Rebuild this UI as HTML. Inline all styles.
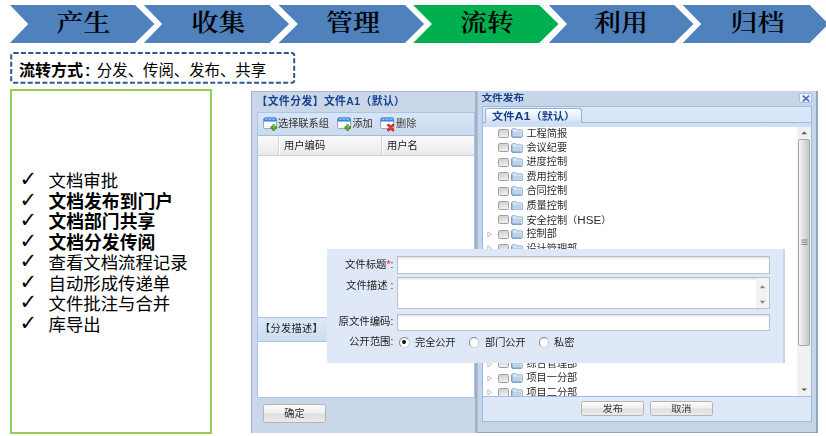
<!DOCTYPE html>
<html lang="zh-CN">
<head>
<meta charset="utf-8">
<title>流转</title>
<style>
html,body{margin:0;padding:0;background:#fff;overflow:hidden;}
body{width:826px;height:436px;position:relative;overflow:hidden;font-family:"Liberation Sans","Noto Sans CJK SC",sans-serif;}
.abs{position:absolute;}
#chev{position:absolute;left:0;top:0;width:826px;height:50px;}
#chev text{font-family:"Liberation Serif","Noto Serif CJK SC",serif;font-weight:600;font-size:27px;fill:#000;text-anchor:middle;}
#mode{position:absolute;left:0;top:44px;width:310px;height:44px;}
#mode svg{position:absolute;left:0;top:0;}
#mode span{position:absolute;left:19px;top:16px;font-size:16px;line-height:22px;white-space:nowrap;color:#000;}
#mode b{font-weight:700;}
#mode em{font-style:normal;font-size:15.4px;margin-left:6.5px;}
#mode u{text-decoration:none;margin-left:2px;}
#gbox{position:absolute;left:10px;top:89px;width:198px;height:340.6px;border:2px solid #92d050;}
#list{position:absolute;left:20.5px;top:171.4px;margin:0;padding:0;list-style:none;font-size:17.4px;line-height:20.5px;color:#000;white-space:nowrap;}
#list li{position:relative;padding-left:28px;height:20.5px;}
#list li i{position:absolute;left:-1px;top:-2px;font-style:normal;font-weight:700;font-size:21px;font-family:"DejaVu Sans",sans-serif;}
#list li.b{font-weight:700;font-size:17.8px;}
.ui{font-size:11px;color:#333;}

/* ---------- screenshot UI ---------- */
#ui{position:absolute;left:0;top:0;width:826px;height:436px;filter:blur(0.35px);font-size:10.4px;color:#222;font-family:"Liberation Sans","Noto Sans CJK SC",sans-serif;}
#ui div,#ui span,#ui i,#ui b{position:absolute;box-sizing:border-box;white-space:nowrap;}
#ui .t{line-height:12px;height:12px;}
/* left panel */
#lp{left:251.1px;top:91px;width:225.9px;height:341.5px;background:#c9d7e9;border-left:1.6px solid #9db0c9;box-shadow:inset 0 1px 0 #a9bad1;}
#lp .ttl{left:5.2px;top:4.4px;font-weight:700;color:#15428b;font-size:10.8px;line-height:13px;letter-spacing:0.42px;}
#lp .tb{left:6px;top:20.5px;width:217.8px;height:24.2px;background:linear-gradient(#d8e5f5,#cbdbef);border:1px solid #a9c4e8;border-bottom-color:#9fbce3;}
#lp .gh{left:6px;top:44.7px;width:217.8px;height:20.7px;background:linear-gradient(#fafafa,#e9eaec);border-left:1.4px solid #a9c4e8;border-right:1px solid #a9c4e8;border-bottom:1px solid #d0d0d0;}
#lp .gb{left:6px;top:65.2px;width:217.8px;height:161.2px;background:#fff;border-left:1.4px solid #a9c4e8;border-right:1px solid #a9c4e8;}
#lp .sep{top:0;width:2px;height:19.8px;border-left:1px solid #d4d4d6;border-right:1px solid #fff;}
#lp .sh{left:6px;top:226.1px;width:217.8px;height:24.8px;background:linear-gradient(#dce8f6,#cddcf0);border:1px solid #a9c4e8;}
#lp .ta{left:6px;top:250.7px;width:217.8px;height:56px;background:#fff;border:1.2px solid #a9c4e8;border-top:none;}
.btn{background:linear-gradient(#fbfbfb 0%,#efefef 48%,#dedede 52%,#eaeaea 100%);border:1px solid #b4b4b4;border-radius:2.5px;text-align:center;color:#333;}
/* right window */
#rw{left:477px;top:91px;width:341.4px;height:342px;background:#c6d5e8;border-left:0.4px solid #b0c0d8;border-right:2px solid #8ea6c8;border-bottom:1.4px solid #93a6c0;}
#rw .ttl{left:3.4px;top:0.4px;font-weight:700;color:#15428b;font-size:10.7px;line-height:12px;transform:scaleY(0.88);}
#rw .cls{left:321.2px;top:2.2px;width:12.4px;height:10px;background:#eef3fa;border:1px solid #a9bfe0;border-radius:2px;}
#rw .ts{left:4.2px;top:15.4px;width:329.8px;height:20.2px;background:linear-gradient(#dde8f6,#d6e3f4);border:1px solid #99bbe8;border-bottom:none;}
#rw .tsb{left:4.2px;top:31.3px;width:329.8px;height:4.8px;background:#cfdef2;border:1px solid #99bbe8;border-bottom:none;border-top-color:#99bbe8;}
#rw .tab{left:7.2px;top:17.2px;width:96.9px;height:15px;background:linear-gradient(#ffffff,#e4edf9 60%,#cfdef2);border:1px solid #8db2e3;border-bottom:none;border-radius:3px 3px 0 0;}
#rw .tab span{left:0;width:100%;text-align:center;top:0.6px;font-weight:700;color:#15428b;font-size:11.2px;line-height:12px;transform:scaleY(0.88);}
#rw .tree{left:4.2px;top:35.9px;width:329.8px;height:270.2px;background:#fff;border:1.4px solid #99bbe8;border-top:none;overflow:hidden;}
#rw .ft{left:4.2px;top:306.1px;width:329.8px;height:24.6px;background:#dfe8f6;border:1.2px solid #99bbe8;border-top:none;}
.row{left:0;width:320px;height:14.4px;}
.row .ar{left:6.6px;top:3.4px;width:0;height:0;}
.row .cb{left:14.4px;top:2.7px;width:11.6px;height:9px;background:linear-gradient(170deg,#cdcdcd,#ededed 85%);border:1px solid #a0a0a0;border-radius:1.5px;}
.row .fd{left:27.8px;top:2.2px;width:12.4px;height:9.8px;}
.row .tx{left:43.2px;top:0.3px;font-size:10.2px;line-height:14.4px;color:#2a2a2a;transform:scaleY(0.95);}
.sb{left:314.2px;top:0;width:13.4px;height:270.2px;background:#f1f1f1;}
.sb .th{left:0.4px;top:11.9px;width:12.6px;height:207px;background:linear-gradient(90deg,#f4f4f4,#dcdcdc 55%,#c4c4c4);border:1px solid #a8a8a8;border-radius:2px;}
#rw .btn u{display:inline-block;text-decoration:none;transform:scaleY(0.88);}
#ui u{text-decoration:none;}
/* overlay */
#ov{left:327px;top:249px;width:457.6px;height:114px;background:#dfe8f6;border-right:2.4px solid #c3d6f0;}
#ov .lb{right:389.2px;font-size:10.4px;line-height:12px;color:#222;}
#ov .in{left:70.4px;width:372.6px;background:#fff;border:1px solid #bbbfd0;box-shadow:inset 0 1.5px 1.5px #e4e4e4;}
.rd{width:10.6px;height:10.6px;border-radius:50%;background:radial-gradient(circle at 60% 60%,#fff 40%,#e9e9e9 100%);border:1.2px solid #9b9b9b;border-color:#888 #c9c9c9 #d4d4d4 #8e8e8e;}
.rd.on:after{content:"";position:absolute;left:2.3px;top:2.3px;width:3.8px;height:3.8px;border-radius:50%;background:#111;}
</style>
</head>
<body>
<svg id="chev" viewBox="0 0 826 50">
  <g>
    <polygon points="10,5 135.04,5 154.5,24 135.04,43 10,43 28.2,24" fill="#4f81bd"/>
    <polygon points="143.85,5 269.3,5 289.1,24 269.3,43 143.85,43 162.2,24" fill="#4f81bd"/>
    <polygon points="278.6,5 405.0,5 424.1,24 405.0,43 278.6,43 297.9,24" fill="#4f81bd"/>
    <polygon points="413.1,5 539.2,5 558.5,24 539.2,43 413.1,43 432,24" fill="#00b050"/>
    <polygon points="548.8,5 674.2,5 693.5,24 674.2,43 548.8,43 567,24" fill="#4f81bd"/>
    <polygon points="682.7,5 809.65,5 828.5,24 809.65,43 682.7,43 701.2,24" fill="#4f81bd"/>
  </g>
  <text transform="translate(83.5,31.2) scale(1,0.9)">产生</text>
  <text transform="translate(218.5,31.2) scale(1,0.9)">收集</text>
  <text transform="translate(353,31.2) scale(1,0.9)">管理</text>
  <text transform="translate(487,31.2) scale(1,0.9)">流转</text>
  <text transform="translate(621,31.2) scale(1,0.9)">利用</text>
  <text transform="translate(757.5,31.2) scale(1,0.9)">归档</text>
</svg>

<div id="mode"><svg width="310" height="44" viewBox="0 0 310 44"><rect x="11.2" y="9" width="283" height="29.8" rx="2.5" ry="2.5" fill="none" stroke="#30588b" stroke-width="2" stroke-dasharray="5 2.3"/></svg><span><b>流转方式<u>:</u></b><em>分发、传阅、发布、共享</em></span></div>

<div id="gbox"></div>
<ul id="list">
  <li><i>✓</i>文档审批</li>
  <li class="b"><i>✓</i>文档发布到门户</li>
  <li class="b"><i>✓</i>文档部门共享</li>
  <li class="b"><i>✓</i>文档分发传阅</li>
  <li><i>✓</i>查看文档流程记录</li>
  <li><i>✓</i>自动形成传递单</li>
  <li><i>✓</i>文件批注与合并</li>
  <li><i>✓</i>库导出</li>
</ul>

<div id="ui">
 <div id="lp"><div style="left:-0.7px;top:0;width:226px;height:341.5px">
  <span class="ttl">【文件分发】文件<u style="font-size:10.4px">A1</u>（默认）</span>
  <div class="tb">
   <svg style="position:absolute;left:5px;top:4.4px" width="15" height="15" viewBox="0 0 15 15"><rect x="0.6" y="1" width="13" height="10.6" rx="1.2" fill="#fdfdfd" stroke="#8e9aa8" stroke-width="0.9"/><path d="M0.6 4.4V2.2Q0.6 0.6 2.2 0.6H12Q13.6 0.6 13.6 2.2V4.4Z" fill="#2f7fe6"/><path d="M1.2 2.3Q1.2 1.2 2.3 1.2H11.9Q13 1.2 13 2.3V2.6H1.2Z" fill="#6fb0f7"/><path d="M2.6 2.7h1.6M6.2 2.7h1.6M9.8 2.7h1.6" stroke="#cfe4fb" stroke-width="0.8"/><path d="M9.7 7.8h2v1.8h1.8v2h-1.8v1.8h-2v-1.8h-1.8v-2h1.8Z" fill="#56b61f" stroke="#2f8214" stroke-width="0.7" stroke-linejoin="round"/><path d="M10.3 8.7h0.9v1.5" stroke="#c8ee7a" stroke-width="0.7" fill="none"/></svg>
   <span class="t" style="left:19.6px;top:5.9px;font-size:10.2px;color:#333">选择联系组</span>
   <svg style="position:absolute;left:78.4px;top:4.4px" width="15" height="15" viewBox="0 0 15 15"><rect x="0.6" y="1" width="13" height="10.6" rx="1.2" fill="#fdfdfd" stroke="#8e9aa8" stroke-width="0.9"/><path d="M0.6 4.4V2.2Q0.6 0.6 2.2 0.6H12Q13.6 0.6 13.6 2.2V4.4Z" fill="#2f7fe6"/><path d="M1.2 2.3Q1.2 1.2 2.3 1.2H11.9Q13 1.2 13 2.3V2.6H1.2Z" fill="#6fb0f7"/><path d="M2.6 2.7h1.6M6.2 2.7h1.6M9.8 2.7h1.6" stroke="#cfe4fb" stroke-width="0.8"/><path d="M9.7 7.8h2v1.8h1.8v2h-1.8v1.8h-2v-1.8h-1.8v-2h1.8Z" fill="#56b61f" stroke="#2f8214" stroke-width="0.7" stroke-linejoin="round"/><path d="M10.3 8.7h0.9v1.5" stroke="#c8ee7a" stroke-width="0.7" fill="none"/></svg>
   <span class="t" style="left:94px;top:5.9px;font-size:10.2px;color:#333">添加</span>
   <svg style="position:absolute;left:121.4px;top:4.4px" width="15" height="15" viewBox="0 0 15 15"><rect x="0.6" y="1" width="13" height="10.6" rx="1.2" fill="#fdfdfd" stroke="#8e9aa8" stroke-width="0.9"/><path d="M0.6 4.4V2.2Q0.6 0.6 2.2 0.6H12Q13.6 0.6 13.6 2.2V4.4Z" fill="#2f7fe6"/><path d="M1.2 2.3Q1.2 1.2 2.3 1.2H11.9Q13 1.2 13 2.3V2.6H1.2Z" fill="#6fb0f7"/><path d="M2.6 2.7h1.6M6.2 2.7h1.6M9.8 2.7h1.6" stroke="#cfe4fb" stroke-width="0.8"/><path d="M8.4 8.2l4.6 4.8M13 8.2l-4.6 4.8" stroke="#b3120c" stroke-width="2.6" stroke-linecap="round"/><path d="M8.4 8.2l4.6 4.8M13 8.2l-4.6 4.8" stroke="#f0463a" stroke-width="1.4" stroke-linecap="round"/></svg>
   <span class="t" style="left:137.6px;top:5.9px;font-size:10.2px;color:#444">删除</span>
  </div>
  <div class="gh">
   <div class="sep" style="left:19.6px"></div>
   <div class="sep" style="left:123px"></div>
   <span class="t" style="left:25.6px;top:4px;font-size:10.3px;color:#222">用户编码</span>
   <span class="t" style="left:128.6px;top:4px;font-size:10.3px;color:#222">用户名</span>
  </div>
  <div class="gb"></div>
  <div class="sh"><span class="t" style="left:1.6px;top:5px;font-size:10.2px;color:#222;letter-spacing:0.3px">【分发描述】</span></div>
  <div class="ta"></div>
  <div class="btn" style="left:11.3px;top:313.3px;width:63.4px;height:18.4px;font-size:10.2px;line-height:18px">确定</div>
  <div style="left:223.5px;top:0;width:1.6px;height:341.5px;background:#9fb0c8"></div>
 </div></div>

 <div id="rw">
  <span class="ttl">文件发布</span>
  <div class="cls"><svg style="position:absolute;left:1.4px;top:0.6px" width="8" height="7" viewBox="0 0 8 7"><path d="M0.8 0.6L7.2 6.4M7.2 0.6L0.8 6.4" stroke="#4a6fc0" stroke-width="1.7"/></svg></div>
  <div class="ts"></div>
  <div class="tsb"></div>
  <div class="tab"><span>文件<u style="font-size:12.6px">A1</u>（默认）</span></div>
  <div class="tree">
<div class="row" style="top:-0.60px"><div class="cb"></div><svg class="fd" viewBox="0 0 13 10" preserveAspectRatio="none" style="position:absolute"><path d="M0.8 1.8 Q0.8 0.7 1.9 0.7 L5 0.7 L6.2 1.9 L11.2 1.9 Q12.2 1.9 12.2 2.9 L12.2 8.4 Q12.2 9.4 11.2 9.4 L1.9 9.4 Q0.8 9.4 0.8 8.4 Z" fill="#dfeaf5" stroke="#86a9d0" stroke-width="0.9"/><path d="M2.2 3.6 L10.9 3.6 L10.9 8.2 L2.2 8.2 Z" fill="#c2d7ea"/><path d="M2.2 4.6h8.7M2.2 6.6h8.7" stroke="#b0cbe3" stroke-width="0.6"/><path d="M0.9 2 L0.9 8.6 Q0.9 9.3 1.9 9.3 L11 9.3" fill="none" stroke="#5b86b8" stroke-width="1"/></svg><span class="tx">工程简报</span></div>
<div class="row" style="top:13.81px"><div class="cb"></div><svg class="fd" viewBox="0 0 13 10" preserveAspectRatio="none" style="position:absolute"><path d="M0.8 1.8 Q0.8 0.7 1.9 0.7 L5 0.7 L6.2 1.9 L11.2 1.9 Q12.2 1.9 12.2 2.9 L12.2 8.4 Q12.2 9.4 11.2 9.4 L1.9 9.4 Q0.8 9.4 0.8 8.4 Z" fill="#dfeaf5" stroke="#86a9d0" stroke-width="0.9"/><path d="M2.2 3.6 L10.9 3.6 L10.9 8.2 L2.2 8.2 Z" fill="#c2d7ea"/><path d="M2.2 4.6h8.7M2.2 6.6h8.7" stroke="#b0cbe3" stroke-width="0.6"/><path d="M0.9 2 L0.9 8.6 Q0.9 9.3 1.9 9.3 L11 9.3" fill="none" stroke="#5b86b8" stroke-width="1"/></svg><span class="tx">会议纪要</span></div>
<div class="row" style="top:28.21px"><div class="cb"></div><svg class="fd" viewBox="0 0 13 10" preserveAspectRatio="none" style="position:absolute"><path d="M0.8 1.8 Q0.8 0.7 1.9 0.7 L5 0.7 L6.2 1.9 L11.2 1.9 Q12.2 1.9 12.2 2.9 L12.2 8.4 Q12.2 9.4 11.2 9.4 L1.9 9.4 Q0.8 9.4 0.8 8.4 Z" fill="#dfeaf5" stroke="#86a9d0" stroke-width="0.9"/><path d="M2.2 3.6 L10.9 3.6 L10.9 8.2 L2.2 8.2 Z" fill="#c2d7ea"/><path d="M2.2 4.6h8.7M2.2 6.6h8.7" stroke="#b0cbe3" stroke-width="0.6"/><path d="M0.9 2 L0.9 8.6 Q0.9 9.3 1.9 9.3 L11 9.3" fill="none" stroke="#5b86b8" stroke-width="1"/></svg><span class="tx">进度控制</span></div>
<div class="row" style="top:42.62px"><div class="cb"></div><svg class="fd" viewBox="0 0 13 10" preserveAspectRatio="none" style="position:absolute"><path d="M0.8 1.8 Q0.8 0.7 1.9 0.7 L5 0.7 L6.2 1.9 L11.2 1.9 Q12.2 1.9 12.2 2.9 L12.2 8.4 Q12.2 9.4 11.2 9.4 L1.9 9.4 Q0.8 9.4 0.8 8.4 Z" fill="#dfeaf5" stroke="#86a9d0" stroke-width="0.9"/><path d="M2.2 3.6 L10.9 3.6 L10.9 8.2 L2.2 8.2 Z" fill="#c2d7ea"/><path d="M2.2 4.6h8.7M2.2 6.6h8.7" stroke="#b0cbe3" stroke-width="0.6"/><path d="M0.9 2 L0.9 8.6 Q0.9 9.3 1.9 9.3 L11 9.3" fill="none" stroke="#5b86b8" stroke-width="1"/></svg><span class="tx">费用控制</span></div>
<div class="row" style="top:57.02px"><div class="cb"></div><svg class="fd" viewBox="0 0 13 10" preserveAspectRatio="none" style="position:absolute"><path d="M0.8 1.8 Q0.8 0.7 1.9 0.7 L5 0.7 L6.2 1.9 L11.2 1.9 Q12.2 1.9 12.2 2.9 L12.2 8.4 Q12.2 9.4 11.2 9.4 L1.9 9.4 Q0.8 9.4 0.8 8.4 Z" fill="#dfeaf5" stroke="#86a9d0" stroke-width="0.9"/><path d="M2.2 3.6 L10.9 3.6 L10.9 8.2 L2.2 8.2 Z" fill="#c2d7ea"/><path d="M2.2 4.6h8.7M2.2 6.6h8.7" stroke="#b0cbe3" stroke-width="0.6"/><path d="M0.9 2 L0.9 8.6 Q0.9 9.3 1.9 9.3 L11 9.3" fill="none" stroke="#5b86b8" stroke-width="1"/></svg><span class="tx">合同控制</span></div>
<div class="row" style="top:71.43px"><div class="cb"></div><svg class="fd" viewBox="0 0 13 10" preserveAspectRatio="none" style="position:absolute"><path d="M0.8 1.8 Q0.8 0.7 1.9 0.7 L5 0.7 L6.2 1.9 L11.2 1.9 Q12.2 1.9 12.2 2.9 L12.2 8.4 Q12.2 9.4 11.2 9.4 L1.9 9.4 Q0.8 9.4 0.8 8.4 Z" fill="#dfeaf5" stroke="#86a9d0" stroke-width="0.9"/><path d="M2.2 3.6 L10.9 3.6 L10.9 8.2 L2.2 8.2 Z" fill="#c2d7ea"/><path d="M2.2 4.6h8.7M2.2 6.6h8.7" stroke="#b0cbe3" stroke-width="0.6"/><path d="M0.9 2 L0.9 8.6 Q0.9 9.3 1.9 9.3 L11 9.3" fill="none" stroke="#5b86b8" stroke-width="1"/></svg><span class="tx">质量控制</span></div>
<div class="row" style="top:85.84px"><div class="cb"></div><svg class="fd" viewBox="0 0 13 10" preserveAspectRatio="none" style="position:absolute"><path d="M0.8 1.8 Q0.8 0.7 1.9 0.7 L5 0.7 L6.2 1.9 L11.2 1.9 Q12.2 1.9 12.2 2.9 L12.2 8.4 Q12.2 9.4 11.2 9.4 L1.9 9.4 Q0.8 9.4 0.8 8.4 Z" fill="#dfeaf5" stroke="#86a9d0" stroke-width="0.9"/><path d="M2.2 3.6 L10.9 3.6 L10.9 8.2 L2.2 8.2 Z" fill="#c2d7ea"/><path d="M2.2 4.6h8.7M2.2 6.6h8.7" stroke="#b0cbe3" stroke-width="0.6"/><path d="M0.9 2 L0.9 8.6 Q0.9 9.3 1.9 9.3 L11 9.3" fill="none" stroke="#5b86b8" stroke-width="1"/></svg><span class="tx">安全控制（<u style="font-size:11.6px">HSE</u>）</span></div>
<div class="row" style="top:100.24px"><svg style="position:absolute;left:4.2px;top:3.9px" width="5.6" height="6.6" viewBox="0 0 7 8"><path d="M1 0.8 L5.6 4 L1 7.2 Z" fill="none" stroke="#a9a9a9" stroke-width="0.9"/></svg><div class="cb"></div><svg class="fd" viewBox="0 0 13 10" preserveAspectRatio="none" style="position:absolute"><path d="M0.8 1.8 Q0.8 0.7 1.9 0.7 L5 0.7 L6.2 1.9 L11.2 1.9 Q12.2 1.9 12.2 2.9 L12.2 8.4 Q12.2 9.4 11.2 9.4 L1.9 9.4 Q0.8 9.4 0.8 8.4 Z" fill="#dfeaf5" stroke="#86a9d0" stroke-width="0.9"/><path d="M2.2 3.6 L10.9 3.6 L10.9 8.2 L2.2 8.2 Z" fill="#c2d7ea"/><path d="M2.2 4.6h8.7M2.2 6.6h8.7" stroke="#b0cbe3" stroke-width="0.6"/><path d="M0.9 2 L0.9 8.6 Q0.9 9.3 1.9 9.3 L11 9.3" fill="none" stroke="#5b86b8" stroke-width="1"/></svg><span class="tx">控制部</span></div>
<div class="row" style="top:114.65px"><svg style="position:absolute;left:4.2px;top:3.9px" width="5.6" height="6.6" viewBox="0 0 7 8"><path d="M1 0.8 L5.6 4 L1 7.2 Z" fill="none" stroke="#a9a9a9" stroke-width="0.9"/></svg><div class="cb"></div><svg class="fd" viewBox="0 0 13 10" preserveAspectRatio="none" style="position:absolute"><path d="M0.8 1.8 Q0.8 0.7 1.9 0.7 L5 0.7 L6.2 1.9 L11.2 1.9 Q12.2 1.9 12.2 2.9 L12.2 8.4 Q12.2 9.4 11.2 9.4 L1.9 9.4 Q0.8 9.4 0.8 8.4 Z" fill="#dfeaf5" stroke="#86a9d0" stroke-width="0.9"/><path d="M2.2 3.6 L10.9 3.6 L10.9 8.2 L2.2 8.2 Z" fill="#c2d7ea"/><path d="M2.2 4.6h8.7M2.2 6.6h8.7" stroke="#b0cbe3" stroke-width="0.6"/><path d="M0.9 2 L0.9 8.6 Q0.9 9.3 1.9 9.3 L11 9.3" fill="none" stroke="#5b86b8" stroke-width="1"/></svg><span class="tx">设计管理部</span></div>
<div class="row" style="top:229.90px"><svg style="position:absolute;left:4.2px;top:3.9px" width="5.6" height="6.6" viewBox="0 0 7 8"><path d="M1 0.8 L5.6 4 L1 7.2 Z" fill="none" stroke="#a9a9a9" stroke-width="0.9"/></svg><div class="cb"></div><svg class="fd" viewBox="0 0 13 10" preserveAspectRatio="none" style="position:absolute"><path d="M0.8 1.8 Q0.8 0.7 1.9 0.7 L5 0.7 L6.2 1.9 L11.2 1.9 Q12.2 1.9 12.2 2.9 L12.2 8.4 Q12.2 9.4 11.2 9.4 L1.9 9.4 Q0.8 9.4 0.8 8.4 Z" fill="#dfeaf5" stroke="#86a9d0" stroke-width="0.9"/><path d="M2.2 3.6 L10.9 3.6 L10.9 8.2 L2.2 8.2 Z" fill="#c2d7ea"/><path d="M2.2 4.6h8.7M2.2 6.6h8.7" stroke="#b0cbe3" stroke-width="0.6"/><path d="M0.9 2 L0.9 8.6 Q0.9 9.3 1.9 9.3 L11 9.3" fill="none" stroke="#5b86b8" stroke-width="1"/></svg><span class="tx">综合管理部</span></div>
<div class="row" style="top:244.30px"><svg style="position:absolute;left:4.2px;top:3.9px" width="5.6" height="6.6" viewBox="0 0 7 8"><path d="M1 0.8 L5.6 4 L1 7.2 Z" fill="none" stroke="#a9a9a9" stroke-width="0.9"/></svg><div class="cb"></div><svg class="fd" viewBox="0 0 13 10" preserveAspectRatio="none" style="position:absolute"><path d="M0.8 1.8 Q0.8 0.7 1.9 0.7 L5 0.7 L6.2 1.9 L11.2 1.9 Q12.2 1.9 12.2 2.9 L12.2 8.4 Q12.2 9.4 11.2 9.4 L1.9 9.4 Q0.8 9.4 0.8 8.4 Z" fill="#dfeaf5" stroke="#86a9d0" stroke-width="0.9"/><path d="M2.2 3.6 L10.9 3.6 L10.9 8.2 L2.2 8.2 Z" fill="#c2d7ea"/><path d="M2.2 4.6h8.7M2.2 6.6h8.7" stroke="#b0cbe3" stroke-width="0.6"/><path d="M0.9 2 L0.9 8.6 Q0.9 9.3 1.9 9.3 L11 9.3" fill="none" stroke="#5b86b8" stroke-width="1"/></svg><span class="tx">项目一分部</span></div>
<div class="row" style="top:258.71px"><svg style="position:absolute;left:4.2px;top:3.9px" width="5.6" height="6.6" viewBox="0 0 7 8"><path d="M1 0.8 L5.6 4 L1 7.2 Z" fill="none" stroke="#a9a9a9" stroke-width="0.9"/></svg><div class="cb"></div><svg class="fd" viewBox="0 0 13 10" preserveAspectRatio="none" style="position:absolute"><path d="M0.8 1.8 Q0.8 0.7 1.9 0.7 L5 0.7 L6.2 1.9 L11.2 1.9 Q12.2 1.9 12.2 2.9 L12.2 8.4 Q12.2 9.4 11.2 9.4 L1.9 9.4 Q0.8 9.4 0.8 8.4 Z" fill="#dfeaf5" stroke="#86a9d0" stroke-width="0.9"/><path d="M2.2 3.6 L10.9 3.6 L10.9 8.2 L2.2 8.2 Z" fill="#c2d7ea"/><path d="M2.2 4.6h8.7M2.2 6.6h8.7" stroke="#b0cbe3" stroke-width="0.6"/><path d="M0.9 2 L0.9 8.6 Q0.9 9.3 1.9 9.3 L11 9.3" fill="none" stroke="#5b86b8" stroke-width="1"/></svg><span class="tx">项目二分部</span></div>

   <div class="sb">
    <svg style="position:absolute;left:3.6px;top:4.2px" width="6.4" height="3.6" viewBox="0 0 7 5" preserveAspectRatio="none"><path d="M0.4 4.4L3.5 0.8L6.6 4.4Z" fill="#555"/></svg>
    <div class="th"></div>
    <svg style="position:absolute;left:3.2px;top:112.4px" width="7" height="7" viewBox="0 0 7 7"><path d="M0.5 1h6M0.5 3.2h6M0.5 5.4h6" stroke="#7a7a7a" stroke-width="0.9"/></svg>
    <svg style="position:absolute;left:3.6px;top:261.6px" width="6.4" height="3.6" viewBox="0 0 7 5" preserveAspectRatio="none"><path d="M0.4 0.6L3.5 4.2L6.6 0.6Z" fill="#555"/></svg>
   </div>
  </div>
  <div class="ft">
   <div class="btn" style="left:98.2px;top:4.4px;width:62.8px;height:14.2px;font-size:10.2px;line-height:13px"><u>发布</u></div>
   <div class="btn" style="left:166.6px;top:4.4px;width:63.2px;height:14.2px;font-size:10.2px;line-height:13px"><u>取消</u></div>
  </div>
 </div>

 <div id="ov">
  <span class="lb" style="top:9.6px">文件标题<b style="position:static;color:#e22;font-weight:400">*</b>:</span>
  <div class="in" style="top:7.4px;height:17.2px"></div>
  <span class="lb" style="top:31.2px">文件描述 :</span>
  <div class="in" style="top:28.2px;height:31.8px">
   <div style="right:0;top:0;width:13px;height:29.4px;background:#f3f3f3"></div>
   <svg style="position:absolute;left:361px;top:6.2px" width="7" height="5" viewBox="0 0 7 5"><path d="M0.6 4.2L3.5 1.2L6.4 4.2Z" fill="#8a8a8a"/></svg>
   <svg style="position:absolute;left:361px;top:22.2px" width="7" height="5" viewBox="0 0 7 5"><path d="M0.6 0.8L3.5 3.8L6.4 0.8Z" fill="#8a8a8a"/></svg>
  </div>
  <span class="lb" style="top:66.6px">原文件编码:</span>
  <div class="in" style="top:64.6px;height:17.2px"></div>
  <span class="lb" style="top:87.4px">公开范围:</span>
  <div class="rd on" style="left:72.1px;top:88.1px"></div>
  <span class="t" style="left:88px;top:87.6px;font-size:10.2px">完全公开</span>
  <div class="rd" style="left:141.7px;top:88.1px"></div>
  <span class="t" style="left:158px;top:87.6px;font-size:10.2px">部门公开</span>
  <div class="rd" style="left:211.7px;top:88.1px"></div>
  <span class="t" style="left:227px;top:87.6px;font-size:10.2px">私密</span>
 </div>
</div>

</body>
</html>
